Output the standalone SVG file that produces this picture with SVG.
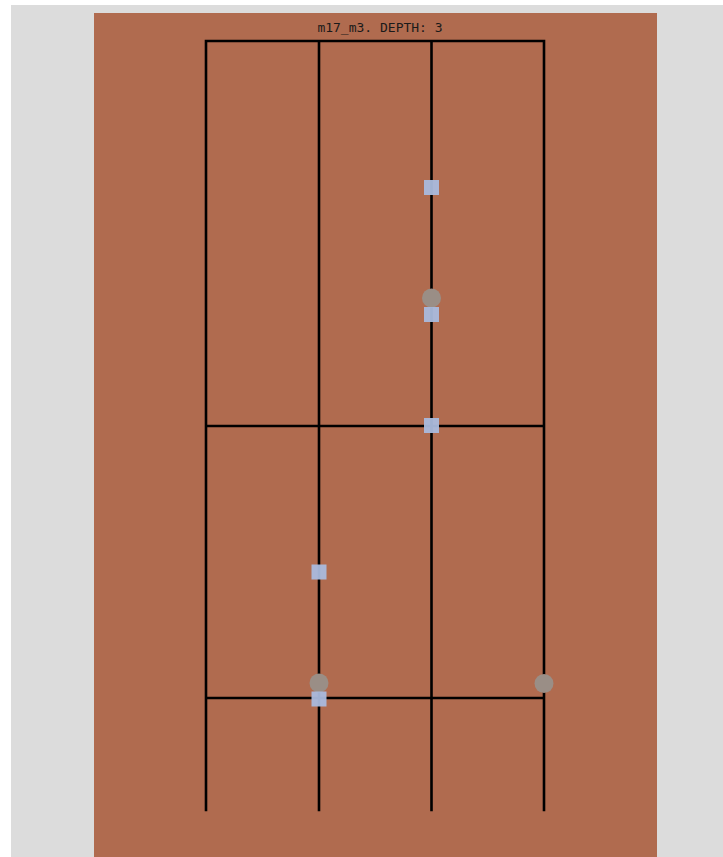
<svg xmlns="http://www.w3.org/2000/svg" width="723" height="857" viewBox="0 0 723 857">
<style>
.ln{stroke:#000;stroke-width:2.6;fill:none;stroke-linecap:square}
.sq{fill:#aabbdd;opacity:0.95}
.ci{fill:#9a8e86}
.t{font-family:"DejaVu Sans Mono",monospace;font-size:13px;fill:#1a1a1a}
</style>
<rect x="0" y="0" width="723" height="857" fill="#ffffff"/>
<rect x="11" y="5" width="712" height="852" fill="#dcdcdc"/>
<rect x="94" y="13" width="563" height="844" fill="#b06b4f"/>
<text class="t" x="380" y="32" text-anchor="middle">m17_m3. DEPTH: 3</text>
<g id="connectors">
<path class="ln" d="M206 41H544M206 426H544M206 698H544M206 41V810M319 41V810M431.5 41V810M544 41V810"/>
</g>
<g id="n1"><rect class="sq" x="424" y="180" width="15" height="15"/></g>
<g id="n2"><circle class="ci" cx="431.5" cy="298" r="9.5"/></g>
<g id="n3"><rect class="sq" x="424" y="307" width="15" height="15"/></g>
<g id="n4"><rect class="sq" x="424" y="418" width="15" height="15"/></g>
<g id="n5"><rect class="sq" x="311.5" y="564.5" width="15" height="15"/></g>
<g id="n6"><circle class="ci" cx="319" cy="683" r="9.5"/></g>
<g id="n7"><rect class="sq" x="311.5" y="691.5" width="15" height="15"/></g>
<g id="n8"><circle class="ci" cx="544" cy="683.5" r="9.5"/></g>
</svg>
